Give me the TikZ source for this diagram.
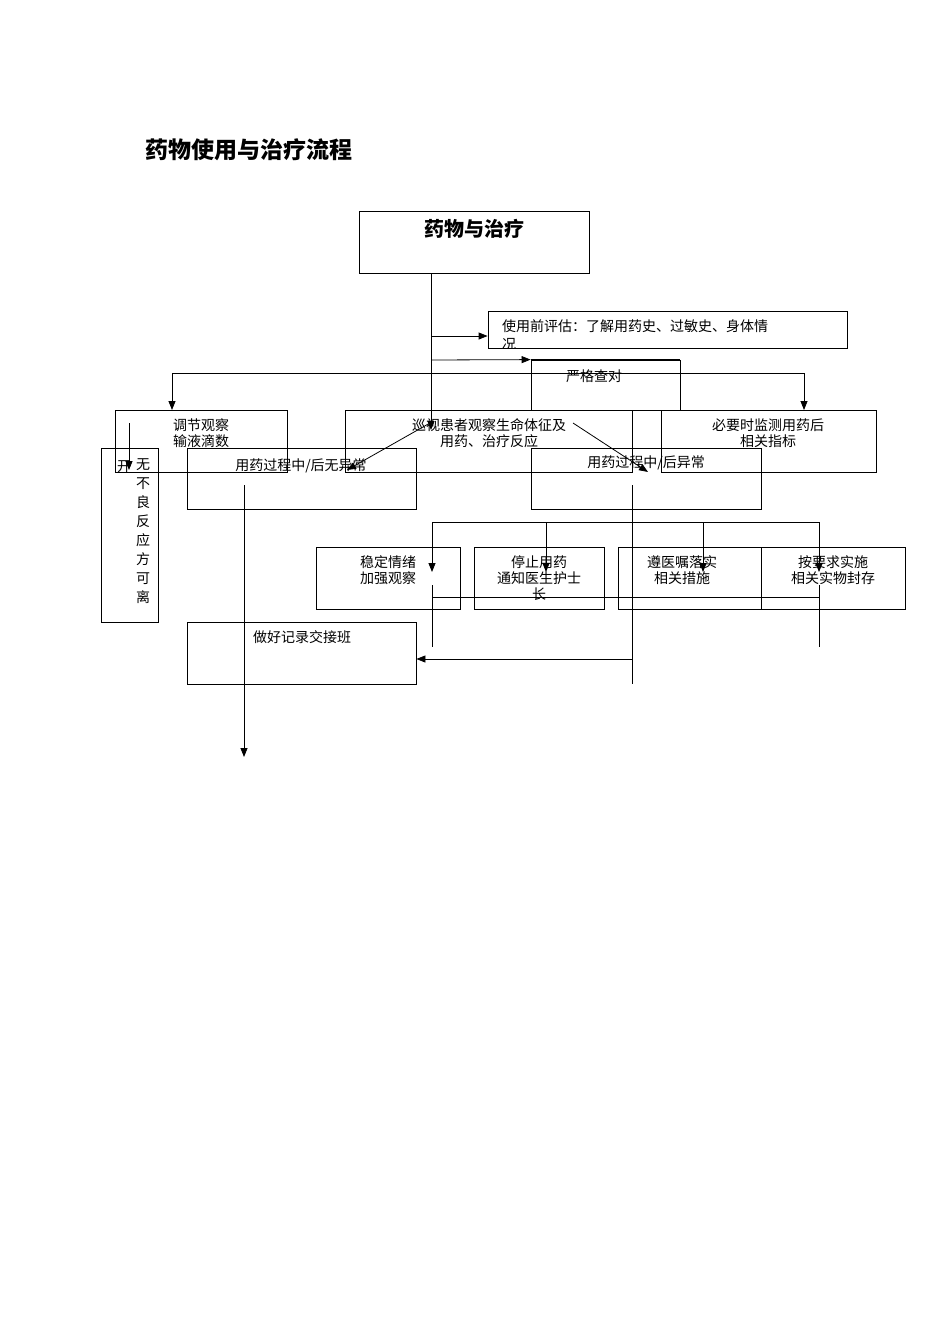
\documentclass[tikz,border=0pt]{standalone}
\usepackage{fontspec}
\setmainfont{Noto Sans CJK SC}
\usetikzlibrary{arrows.meta}
\begin{document}
\begin{tikzpicture}[x=1pt,y=-1pt,
  box/.style={draw,line width=0.8pt,inner sep=0pt},
  txt/.style={font=\fontsize{14}{16}\selectfont,inner sep=0pt,align=center},
  ln/.style={line width=0.8pt},
  ar/.style={line width=0.8pt,-{Triangle[length=9pt,width=7pt]}}]
\useasboundingbox[fill=white] (0,0) rectangle (950,1344);
\newcommand{\bx}[5]{\node[box,minimum width={#4-#2},minimum height={#5-#3}] (#1) at ({(#2+#4)/2},{(#3+#5)/2}) {};}
\node[font=\bfseries\fontsize{23}{26}\selectfont,anchor=west,inner sep=0pt] (title) at (145,150) {药物使用与治疗流程};
% boxes
\bx{top}{359}{211}{589}{273}
\node[font=\bfseries\fontsize{20}{22}\selectfont,inner sep=0pt] (toptx) at (474,229) {药物与治疗};
\bx{pre}{488}{311}{847}{348}
\begin{scope}
\clip (488,311) rectangle (847,348);
\node[txt,anchor=west] (pretx) at (502,326) {使用前评估：了解用药史、过敏史、身体情};
\node[txt,anchor=west] (pretx2) at (502,345) {况};
\end{scope}
\bx{check}{531}{360}{680}{410}
\node[txt] (checktx) at (594,376) {严格查对};
\bx{adj}{115}{410}{287}{472}
\node[txt] (adjtx) at (201,433) {调节观察\\输液滴数};
\bx{patrol}{345}{410}{632}{472}
\node[txt] (patroltx) at (489,433) {巡视患者观察生命体征及\\用药、治疗反应};
\bx{mon}{661}{410}{876}{472}
\node[txt] (montx) at (768,433) {必要时监测用药后\\相关指标};
\bx{leave}{101}{448}{158}{622}
\node[box,fill=white,draw=none,minimum width=20,minimum height=60] at (0,0) {};
\node[txt,anchor=north] (leavetx) at (143,458) {无\\[3pt]不\\[3pt]良\\[3pt]反\\[3pt]应\\[3pt]方\\[3pt]可\\[3pt]离};
\node[txt] (kai) at (124,467) {开};
\bx{ok}{187}{448}{416}{509}
\node[txt] (oktx) at (301,466) {用药过程中/后无异常};
\bx{bad}{531}{448}{761}{509}
\node[txt] (badtx) at (646,463) {用药过程中/后异常};
\bx{calm}{316}{547}{460}{609}
\node[txt] (calmtx) at (388,570) {稳定情绪\\加强观察};
\bx{stop}{474}{547}{604}{609}
\node[txt] (stoptx) at (539,578) {停止用药\\通知医生护士\\长};
\bx{order}{618}{547}{761}{609}
\node[txt] (ordertx) at (682,570) {遵医嘱落实\\相关措施};
\bx{seal}{761}{547}{905}{609}
\node[txt] (sealtx) at (833,570) {按要求实施\\相关实物封存};
\bx{rec}{187}{622}{416}{684}
\node[txt] (rectx) at (302,637) {做好记录交接班};
% connectors
\coordinate (a0) at (431,273);
\draw[ar] (a0) -- (431,430);
\draw[ar] (431,336) -- (pre.west |- 0,336);
\draw[ar] (431,360) -- (check.north west);
\draw[ln] (check.north west) -- (check.north east);
\draw[ln] (172,373) -- (804,373);
\draw[ar] (172,373) -- (172,410);
\draw[ar] (804,373) -- (804,410);
\draw[ln] (158,472) -- (187,472);
\draw[ln] (416,472) -- (531,472);
\draw[ln] (761,472) -- (876,472);
\draw[ar] (129,423) -- (129,470);
\draw[ar] (430,423) -- (347,470);
\draw[ar] (573,423) -- (648,472);
\draw[ar] (244,485) -- (244,757);
\draw[ln] (632,485) -- (632,684);
\draw[ar] (632,659) -- (rec.east |- 0,659);
\draw[ln] (432,522) -- (819,522);
\foreach \x in {432,546,703,819} \draw[ar] (\x,522) -- (\x,572);
\draw[ln] (432,597) -- (819,597);
\draw[ln] (432,585) -- (432,647);
\draw[ln] (819,585) -- (819,647);
\end{tikzpicture}
\end{document}
